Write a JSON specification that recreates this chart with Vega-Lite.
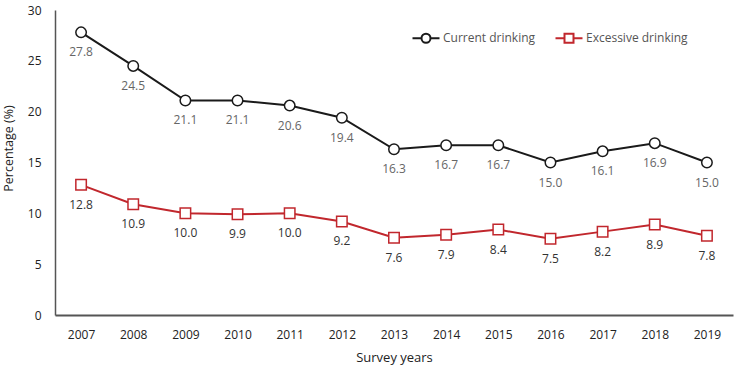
{
  "$schema": "https://vega.github.io/schema/vega-lite/v6.json",
  "width": 678,
  "height": 305,
  "padding": {"left": 55, "top": 10, "right": 2, "bottom": 57},
  "autosize": {"type": "none"},
  "background": "white",
  "config": {
    "font": "Open Sans",
    "view": {"stroke": null}
  },
  "data": {
    "values": [
      {"year": "2007", "series": "Current drinking", "value": 27.8},
      {"year": "2008", "series": "Current drinking", "value": 24.5},
      {"year": "2009", "series": "Current drinking", "value": 21.1},
      {"year": "2010", "series": "Current drinking", "value": 21.1},
      {"year": "2011", "series": "Current drinking", "value": 20.6},
      {"year": "2012", "series": "Current drinking", "value": 19.4},
      {"year": "2013", "series": "Current drinking", "value": 16.3},
      {"year": "2014", "series": "Current drinking", "value": 16.7},
      {"year": "2015", "series": "Current drinking", "value": 16.7},
      {"year": "2016", "series": "Current drinking", "value": 15.0},
      {"year": "2017", "series": "Current drinking", "value": 16.1},
      {"year": "2018", "series": "Current drinking", "value": 16.9},
      {"year": "2019", "series": "Current drinking", "value": 15.0},
      {"year": "2007", "series": "Excessive drinking", "value": 12.8},
      {"year": "2008", "series": "Excessive drinking", "value": 10.9},
      {"year": "2009", "series": "Excessive drinking", "value": 10.0},
      {"year": "2010", "series": "Excessive drinking", "value": 9.9},
      {"year": "2011", "series": "Excessive drinking", "value": 10.0},
      {"year": "2012", "series": "Excessive drinking", "value": 9.2},
      {"year": "2013", "series": "Excessive drinking", "value": 7.6},
      {"year": "2014", "series": "Excessive drinking", "value": 7.9},
      {"year": "2015", "series": "Excessive drinking", "value": 8.4},
      {"year": "2016", "series": "Excessive drinking", "value": 7.5},
      {"year": "2017", "series": "Excessive drinking", "value": 8.2},
      {"year": "2018", "series": "Excessive drinking", "value": 8.9},
      {"year": "2019", "series": "Excessive drinking", "value": 7.8}
    ]
  },
  "encoding": {
    "x": {
      "field": "year",
      "type": "ordinal",
      "scale": {"type": "point", "padding": 0.5},
      "axis": {
        "title": "Survey years",
        "labelAngle": 0,
        "ticks": false,
        "grid": false,
        "domainColor": "#555",
        "domainWidth": 2,
        "labelPadding": 14,
        "labelFontSize": 12,
        "labelColor": "#222",
        "titleFontSize": 13,
        "titleFontWeight": "normal",
        "titleColor": "#222",
        "titlePadding": 11
      }
    },
    "y": {
      "field": "value",
      "type": "quantitative",
      "scale": {"domain": [0, 30]},
      "axis": {
        "title": "Percentage (%)",
        "values": [0, 5, 10, 15, 20, 25, 30],
        "ticks": false,
        "grid": false,
        "domainColor": "#555",
        "domainWidth": 1.5,
        "labelPadding": 14,
        "labelFontSize": 12,
        "labelColor": "#222",
        "titleFontSize": 12.5,
        "titleFontWeight": "normal",
        "titleColor": "#222",
        "titlePadding": 12,
        "titleY": 138
      }
    }
  },
  "layer": [
    {
      "mark": {"type": "line", "strokeWidth": 2},
      "encoding": {
        "color": {
          "field": "series",
          "type": "nominal",
          "scale": {
            "domain": ["Current drinking", "Excessive drinking"],
            "range": ["#1a1a1a", "#c1272d"]
          },
          "legend": {
            "title": null,
            "orient": "none",
            "direction": "horizontal",
            "legendX": 361,
            "legendY": 18,
            "labelFontSize": 12,
            "labelColor": "#555",
            "labelOffset": 7,
            "columnPadding": 15,
            "symbolSize": 324,
            "symbolStrokeWidth": 2,
            "symbolFillColor": "white",
            "encode": {
              "symbols": {
                "update": {
                  "shape": {
                    "signal": "datum.value === 'Current drinking' ? 'M-1.5,0H-0.5M0.5,0H1.5M-0.5,0A0.5,0.5 0 1,1 0.5,0A0.5,0.5 0 1,1 -0.5,0Z' : 'M-1.5,0H-0.5M0.5,0H1.5M-0.5,-0.5H0.5V0.5H-0.5Z'"
                  },
                  "fill": {"value": "white"},
                  "strokeWidth": {"value": 2}
                }
              }
            }
          }
        }
      }
    },
    {
      "transform": [{"filter": "datum.series === 'Current drinking'"}],
      "mark": {"type": "point", "shape": "circle", "filled": false, "fill": "white", "strokeWidth": 1.5, "size": 110, "opacity": 1},
      "encoding": {
        "color": {"field": "series", "type": "nominal"}
      }
    },
    {
      "transform": [{"filter": "datum.series === 'Excessive drinking'"}],
      "mark": {"type": "point", "shape": "square", "filled": false, "fill": "white", "strokeWidth": 1.5, "size": 110, "opacity": 1},
      "encoding": {
        "color": {"field": "series", "type": "nominal"}
      }
    },
    {
      "mark": {"type": "text", "dy": 20, "fontSize": 12, "baseline": "middle"},
      "encoding": {
        "text": {"field": "value", "type": "quantitative", "format": ".1f"},
        "color": {
          "condition": {"test": "datum.series === 'Current drinking'", "value": "#666"},
          "value": "#333"
        }
      }
    }
  ]
}
